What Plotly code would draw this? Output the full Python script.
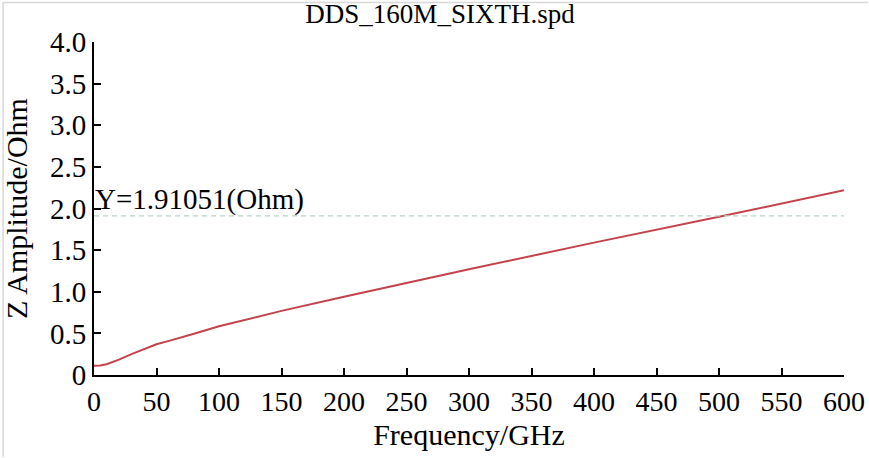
import plotly.graph_objects as go

# Data
freq_ghz = [0, 5, 10, 20, 30, 40, 50, 60, 70, 80, 90, 100, 150, 200, 300, 400, 500, 600]
z_ohm = [0.11, 0.113, 0.13, 0.185, 0.25, 0.31, 0.37, 0.41, 0.45, 0.495, 0.54, 0.585,
         0.77, 0.94, 1.27, 1.59, 1.90, 2.22]
marker_y = 1.91051
x_ticks = [0, 50, 100, 150, 200, 250, 300, 350, 400, 450, 500, 550, 600]
y_ticks = [0, 0.5, 1.0, 1.5, 2.0, 2.5, 3.0, 3.5, 4.0]
y_tick_labels = ["0", "0.5", "1.0", "1.5", "2.0", "2.5", "3.0", "3.5", "4.0"]

W, H = 869, 458
L, R, T, B = 93.5, 25, 42, 83
FONT = "Liberation Serif, Times New Roman, serif"

fig = go.Figure()
fig.add_trace(go.Scatter(x=freq_ghz, y=z_ohm, mode="lines",
                         line=dict(color="#c4424c", width=2), showlegend=False,
                         hoverinfo="skip", cliponaxis=False))
fig.add_trace(go.Scatter(x=[x_ticks[0], x_ticks[-1]], y=[marker_y, marker_y], mode="lines",
                         line=dict(color="#b9d3c2", width=1.2, dash="5px,4px"),
                         showlegend=False, hoverinfo="skip"))

fig.add_annotation(x=x_ticks[0], y=marker_y, xref="x", yref="y",
                   text="Y=%.5f(Ohm)" % marker_y, showarrow=False,
                   xanchor="left", yanchor="bottom", xshift=-1, yshift=-2,
                   font=dict(family=FONT, size=29, color="black"))

pw = W - L - R
ph = H - T - B
# light gray frame lines at top and left of the picture
fig.add_shape(type="line", xref="paper", yref="paper",
              x0=(2.5 - L) / pw, x1=(W - 1 - L) / pw,
              y0=1 + (T - 2.5) / ph, y1=1 + (T - 2.5) / ph,
              line=dict(color="#d8d8d8", width=1.5))
fig.add_shape(type="line", xref="paper", yref="paper",
              x0=(2.5 - L) / pw, x1=(2.5 - L) / pw,
              y0=-(B - 1) / ph, y1=1 + (T - 2.5) / ph,
              line=dict(color="#d8d8d8", width=1.5))

fig.update_layout(
    width=W, height=H,
    margin=dict(l=L, r=R, t=T, b=B, pad=0),
    paper_bgcolor="white", plot_bgcolor="white",
    font=dict(family=FONT, color="black"),
    title=dict(text="DDS_160M_SIXTH.spd", x=440 / W, xanchor="center",
               xref="container", y=1 - 14 / H, yanchor="middle", yref="container",
               font=dict(family=FONT, size=27, color="black")),
    xaxis=dict(range=[0, 600], tickvals=x_ticks, ticks="inside", ticklen=7, tickwidth=2,
               tickcolor="black", showline=True, linecolor="black", linewidth=2,
               showgrid=False, zeroline=False, tickfont=dict(family=FONT, size=28),
               automargin=False,
               title=dict(text="Frequency/GHz", font=dict(family=FONT, size=30), standoff=8)),
    yaxis=dict(range=[0, 4], tickvals=y_ticks, ticktext=y_tick_labels, ticks="inside",
               ticklen=7, tickwidth=2, tickcolor="black", showline=True, linecolor="black",
               linewidth=2, showgrid=False, zeroline=False, automargin=False,
               tickfont=dict(family=FONT, size=29),
               title=dict(text="Z Amplitude/Ohm", font=dict(family=FONT, size=30), standoff=16)),
)

fig.write_html("out.html", config={"displayModeBar": False})
